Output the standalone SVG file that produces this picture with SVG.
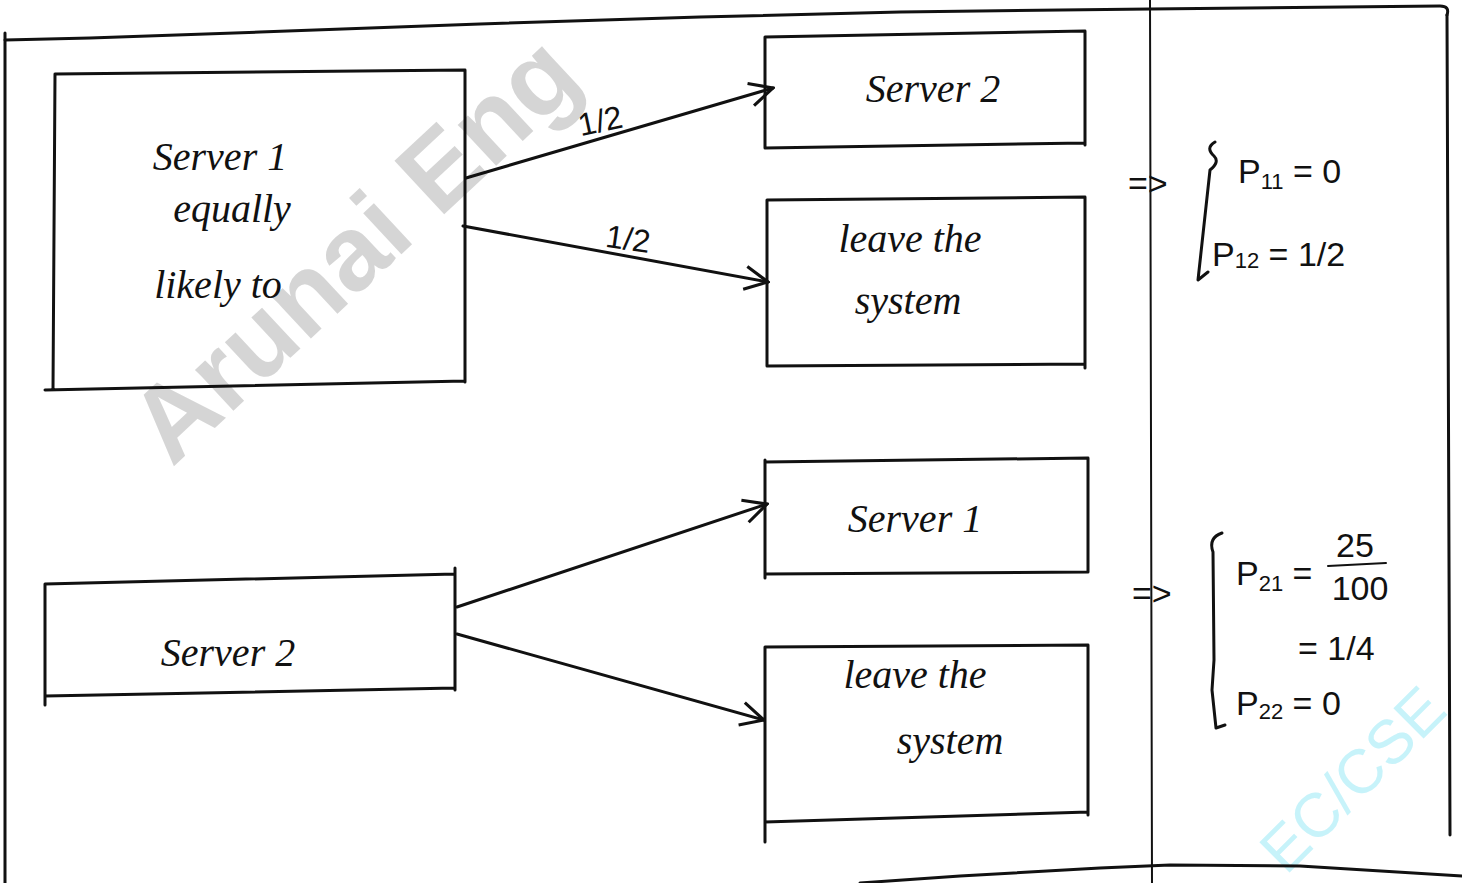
<svg xmlns="http://www.w3.org/2000/svg" width="1462" height="883" viewBox="0 0 1462 883">
  <defs>
    <marker id="arr" viewBox="0 0 14 14" refX="13" refY="7" markerWidth="9" markerHeight="9" markerUnits="strokeWidth" orient="auto">
      <path d="M1,1 L13,7 L1,13" fill="none" stroke="#111" stroke-width="1.6"/>
    </marker>
    <style>
      .ln { fill: none; stroke: #111; stroke-width: 3; stroke-linecap: round; stroke-linejoin: round; }
      .thin { fill: none; stroke: #111; stroke-width: 2; stroke-linecap: round; }
      .hw { font-family: "Liberation Serif", "DejaVu Serif", serif; font-style: italic; font-size: 40px; fill: #111; }
      .eq { font-family: "Liberation Sans", "DejaVu Sans", sans-serif; font-size: 34px; fill: #111; }
      .sub { font-size: 22px; }
      .lbl { font-family: "Liberation Sans", "DejaVu Sans", sans-serif; font-size: 32px; fill: #111; }
      .wm1 { font-family: "Liberation Sans", sans-serif; font-weight: bold; font-size: 106px; fill: #c8c8c8; opacity: 0.75; }
      .wm2 { font-family: "Liberation Sans", sans-serif; font-size: 62px; fill: #c2f2fa; opacity: 0.9; }
    </style>
  </defs>
  <rect width="1462" height="883" fill="#ffffff"/>

  <!-- watermarks -->
  <text class="wm1" x="0" y="0" transform="translate(172,468) rotate(-43)">Arunai Eng</text>
  <text class="wm2" x="0" y="0" transform="translate(1286,876) rotate(-45)">EC/CSE</text>

  <!-- page frame -->
  <g id="frame">
    <path class="ln" d="M5,40 L90,38 L260,32 L480,24 L700,17 L900,12 L1150,9 L1440,6 Q1450,6 1447,15"/>
    <path class="ln" d="M5,33 L5,883"/>
    <path class="thin" d="M1150,0 L1152,883"/>
    <path class="ln" d="M1447,15 L1450,835"/>
    <path class="ln" d="M860,883 L960,876 L1100,868 L1170,865 L1300,866 L1462,876"/>
  </g>

  <!-- nodes -->
  <g id="server1-top">
    <path class="ln" d="M55,74 L465,70 M55,74 L53,390 M45,390 L465,381 M465,70 L465,382"/>
    <text class="hw" x="220" y="170" text-anchor="middle">Server 1</text>
    <text class="hw" x="232" y="222" text-anchor="middle">equally</text>
    <text class="hw" x="218" y="298" text-anchor="middle">likely to</text>
  </g>
  <g id="server2-top">
    <path class="ln" d="M765,37 L1085,31 M765,37 L765,148 M765,148 L1085,143 M1085,31 L1085,145"/>
    <text class="hw" x="933" y="102" text-anchor="middle">Server 2</text>
  </g>
  <g id="leave-top">
    <path class="ln" d="M767,200 L1085,197 M767,200 L767,366 M767,366 L1085,364 M1085,197 L1085,368"/>
    <text class="hw" x="910" y="252" text-anchor="middle">leave the</text>
    <text class="hw" x="908" y="314" text-anchor="middle">system</text>
  </g>
  <g id="server1-bottom">
    <path class="ln" d="M765,462 L1088,458 M765,460 L765,578 M765,574 L1088,572 M1088,458 L1088,572"/>
    <text class="hw" x="915" y="532" text-anchor="middle">Server 1</text>
  </g>
  <g id="server2-bottom">
    <path class="ln" d="M45,584 L455,574 M45,584 L45,705 M45,696 L455,688 M455,568 L455,690"/>
    <text class="hw" x="228" y="666" text-anchor="middle">Server 2</text>
  </g>
  <g id="leave-bottom">
    <path class="ln" d="M765,647 L1088,645 M765,647 L765,842 M765,822 L1088,812 M1088,645 L1088,815"/>
    <text class="hw" x="915" y="688" text-anchor="middle">leave the</text>
    <text class="hw" x="950" y="754" text-anchor="middle">system</text>
  </g>

  <!-- connectors -->
  <g id="connectors">
    <line class="ln" x1="466" y1="178" x2="773" y2="88" marker-end="url(#arr)"/>
    <line class="ln" x1="463" y1="226" x2="768" y2="282" marker-end="url(#arr)"/>
    <line class="ln" x1="457" y1="607" x2="767" y2="504" marker-end="url(#arr)"/>
    <line class="ln" x1="457" y1="634" x2="764" y2="720" marker-end="url(#arr)"/>
    <text class="lbl" x="600" y="132" text-anchor="middle" transform="rotate(-12 600 120)">1/2</text>
    <text class="lbl" x="628" y="250" text-anchor="middle" transform="rotate(8 628 240)">1/2</text>
  </g>

  <!-- equations -->
  <g id="eq-top">
    <text class="eq" x="1128" y="195">=&gt;</text>
    <path class="ln" d="M1215,142 Q1205,148 1214,156 Q1220,162 1210,170 L1198,280 L1208,272"/>
    <text class="eq" x="1238" y="183">P<tspan class="sub" dy="6">11</tspan><tspan dy="-6"> = 0</tspan></text>
    <text class="eq" x="1212" y="266">P<tspan class="sub" dy="2">12</tspan><tspan dy="-2"> = 1/2</tspan></text>
  </g>
  <g id="eq-bottom">
    <text class="eq" x="1132" y="605">=&gt;</text>
    <path class="ln" d="M1222,533 Q1208,538 1213,552 L1214,660 L1212,690 L1216,728 L1225,725"/>
    <text class="eq" x="1236" y="585">P<tspan class="sub" dy="6">21</tspan><tspan dy="-6"> =</tspan></text>
    <text class="eq" x="1355" y="557" text-anchor="middle">25</text>
    <path class="thin" d="M1328,566 L1386,563"/>
    <text class="eq" x="1360" y="600" text-anchor="middle">100</text>
    <text class="eq" x="1298" y="660">= 1/4</text>
    <text class="eq" x="1236" y="715">P<tspan class="sub" dy="4">22</tspan><tspan dy="-4"> = 0</tspan></text>
  </g>
</svg>
